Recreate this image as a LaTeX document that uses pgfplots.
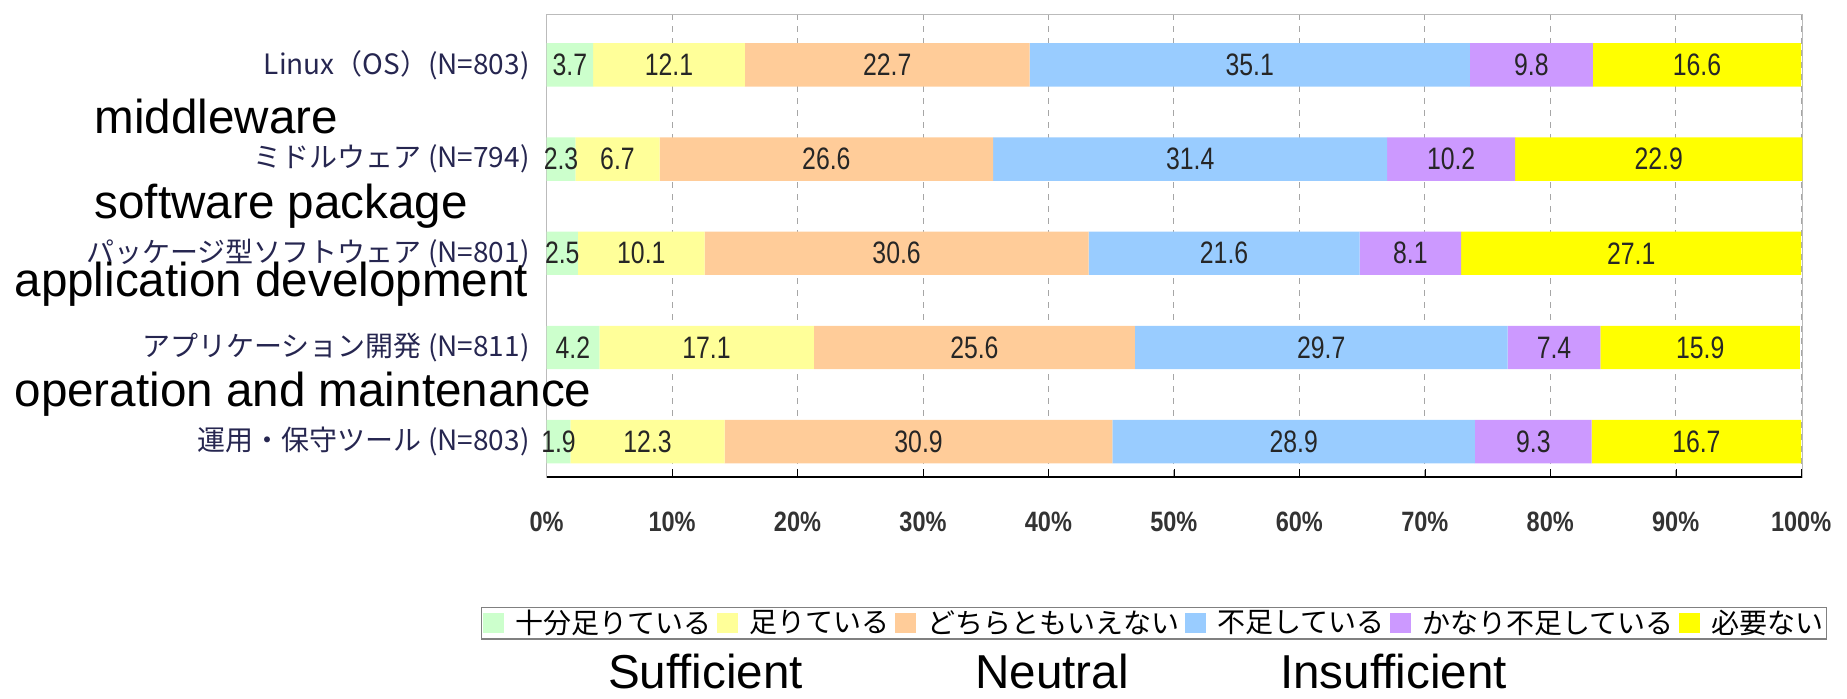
\documentclass[border=0pt]{standalone}
\usepackage{pgfplots}
\pgfplotsset{compat=1.18}
\usepackage{pgfplotstable}
\usepackage{fontspec}
\setmainfont{Liberation Sans}
\newfontfamily\jp{Noto Sans CJK JP}
\newfontfamily\cond{Liberation Sans}[FakeStretch=0.8]
\newfontfamily\condb{Liberation Sans Bold}[FakeStretch=0.84]
\definecolor{c1}{HTML}{CCFFCC}
\definecolor{c2}{HTML}{FFFF99}
\definecolor{c3}{HTML}{FFCC99}
\definecolor{c4}{HTML}{99CCFF}
\definecolor{c5}{HTML}{CC99FF}
\definecolor{c6}{HTML}{FFFF00}
\definecolor{labcol}{HTML}{262650}
\definecolor{framegray}{HTML}{BBBBBB}

% shares in percent, one row per product group
\pgfplotstableread{
row a b c d e f
0 3.7 12.1 22.7 35.1 9.8 16.6
1 2.3 6.7 26.6 31.4 10.2 22.9
2 2.5 10.1 30.6 21.6 8.1 27.1
3 4.2 17.1 25.6 29.7 7.4 15.9
4 1.9 12.3 30.9 28.9 9.3 16.7
}\shares

\pgfplotsset{
  seg/.style={draw=none,
    legend image code/.code={\fill[##1] (0pt,-5pt) rectangle (10.5pt,5pt);}}
}

\begin{document}
\begin{tikzpicture}
\useasboundingbox (0,0) rectangle (923.5pt,-349pt);
\begin{axis}[
  at={(273.3pt,-238.5pt)}, anchor=south west,
  scale only axis, width=627.9pt, height=231.5pt,
  xbar stacked, bar width=21.7pt,
  xmin=0, xmax=100.1, ymin=-0.54, ymax=4.375, y dir=reverse,
  axis line style={framegray},
  xtick={0,10,...,100}, xtick pos=bottom, tick align=inside,
  major tick length=4pt,
  x tick style={black},
  xticklabel={\pgfmathprintnumber[assume math mode=true]{\tick}\%},
  xticklabel style={font=\condb\fontsize{14}{16}\selectfont, text=black!80, yshift=-14pt},
  xmajorgrids, grid style={gray!70, dashed},
  ytick={0,...,4},
  yticklabels={{Linux（OS）(N=803)},{ミドルウェア (N=794)},{パッケージ型ソフトウェア (N=801)},{アプリケーション開発 (N=811)},{運用・保守ツール (N=803)}},
  yticklabel style={font=\jp\fontsize{14}{16}\selectfont, text=labcol, xshift=-5pt},
  y tick style={draw=none},
  extra y ticks={0.5,1.5,2.5,3.5}, extra y tick labels={},
  extra y tick style={tick align=outside, ytick pos=left, major tick length=3.5pt, tick style={framegray, draw=framegray}},
  point meta=explicit symbolic,
  nodes near coords={\pgfplotspointmeta},
  every node near coord/.append style={anchor=center,
     font=\cond\fontsize{15.5}{17}\selectfont, text=black!85},
  legend columns=6,
  legend style={at={(-0.0525,-0.28)}, anchor=north west, draw=gray, line width=0.9pt,
     font=\jp\fontsize{14}{16}\selectfont, inner sep=0.5pt,
     nodes={inner sep=0.8pt},
     /tikz/every even column/.append style={column sep=2pt},
     /tikz/every odd column/.append style={column sep=5pt}},
  legend cell align=left,
  after end axis/.code={\draw[black, line width=1pt] (rel axis cs:0,0) -- (rel axis cs:1,0);},
]
\addplot[seg, fill=c1] table[x=a, y=row, meta=a]{\shares};
\addplot[seg, fill=c2] table[x=b, y=row, meta=b]{\shares};
\addplot[seg, fill=c3] table[x=c, y=row, meta=c]{\shares};
\addplot[seg, fill=c4] table[x=d, y=row, meta=d]{\shares};
\addplot[seg, fill=c5] table[x=e, y=row, meta=e]{\shares};
\addplot[seg, fill=c6] table[x=f, y=row, meta=f]{\shares};
\legend{十分足りている,足りている,どちらともいえない,不足している,かなり不足している,必要ない}
\end{axis}
\begin{scope}[every node/.style={font=\fontsize{23.8}{28}\selectfont, inner sep=0pt}]
\node[anchor=base west] at (47.1pt,-66.6pt) {middleware};
\node[anchor=base west] at (47.1pt,-109pt) {software package};
\node[anchor=base west] at (7.1pt,-148.4pt) {application development};
\node[anchor=base west] at (7.1pt,-203.2pt) {operation and maintenance};
\node[anchor=base] at (352.8pt,-344pt) {Sufficient};
\node[anchor=base] at (526pt,-344pt) {Neutral};
\node[anchor=base] at (696.8pt,-344pt) {Insufficient};
\end{scope}
\end{tikzpicture}
\end{document}
